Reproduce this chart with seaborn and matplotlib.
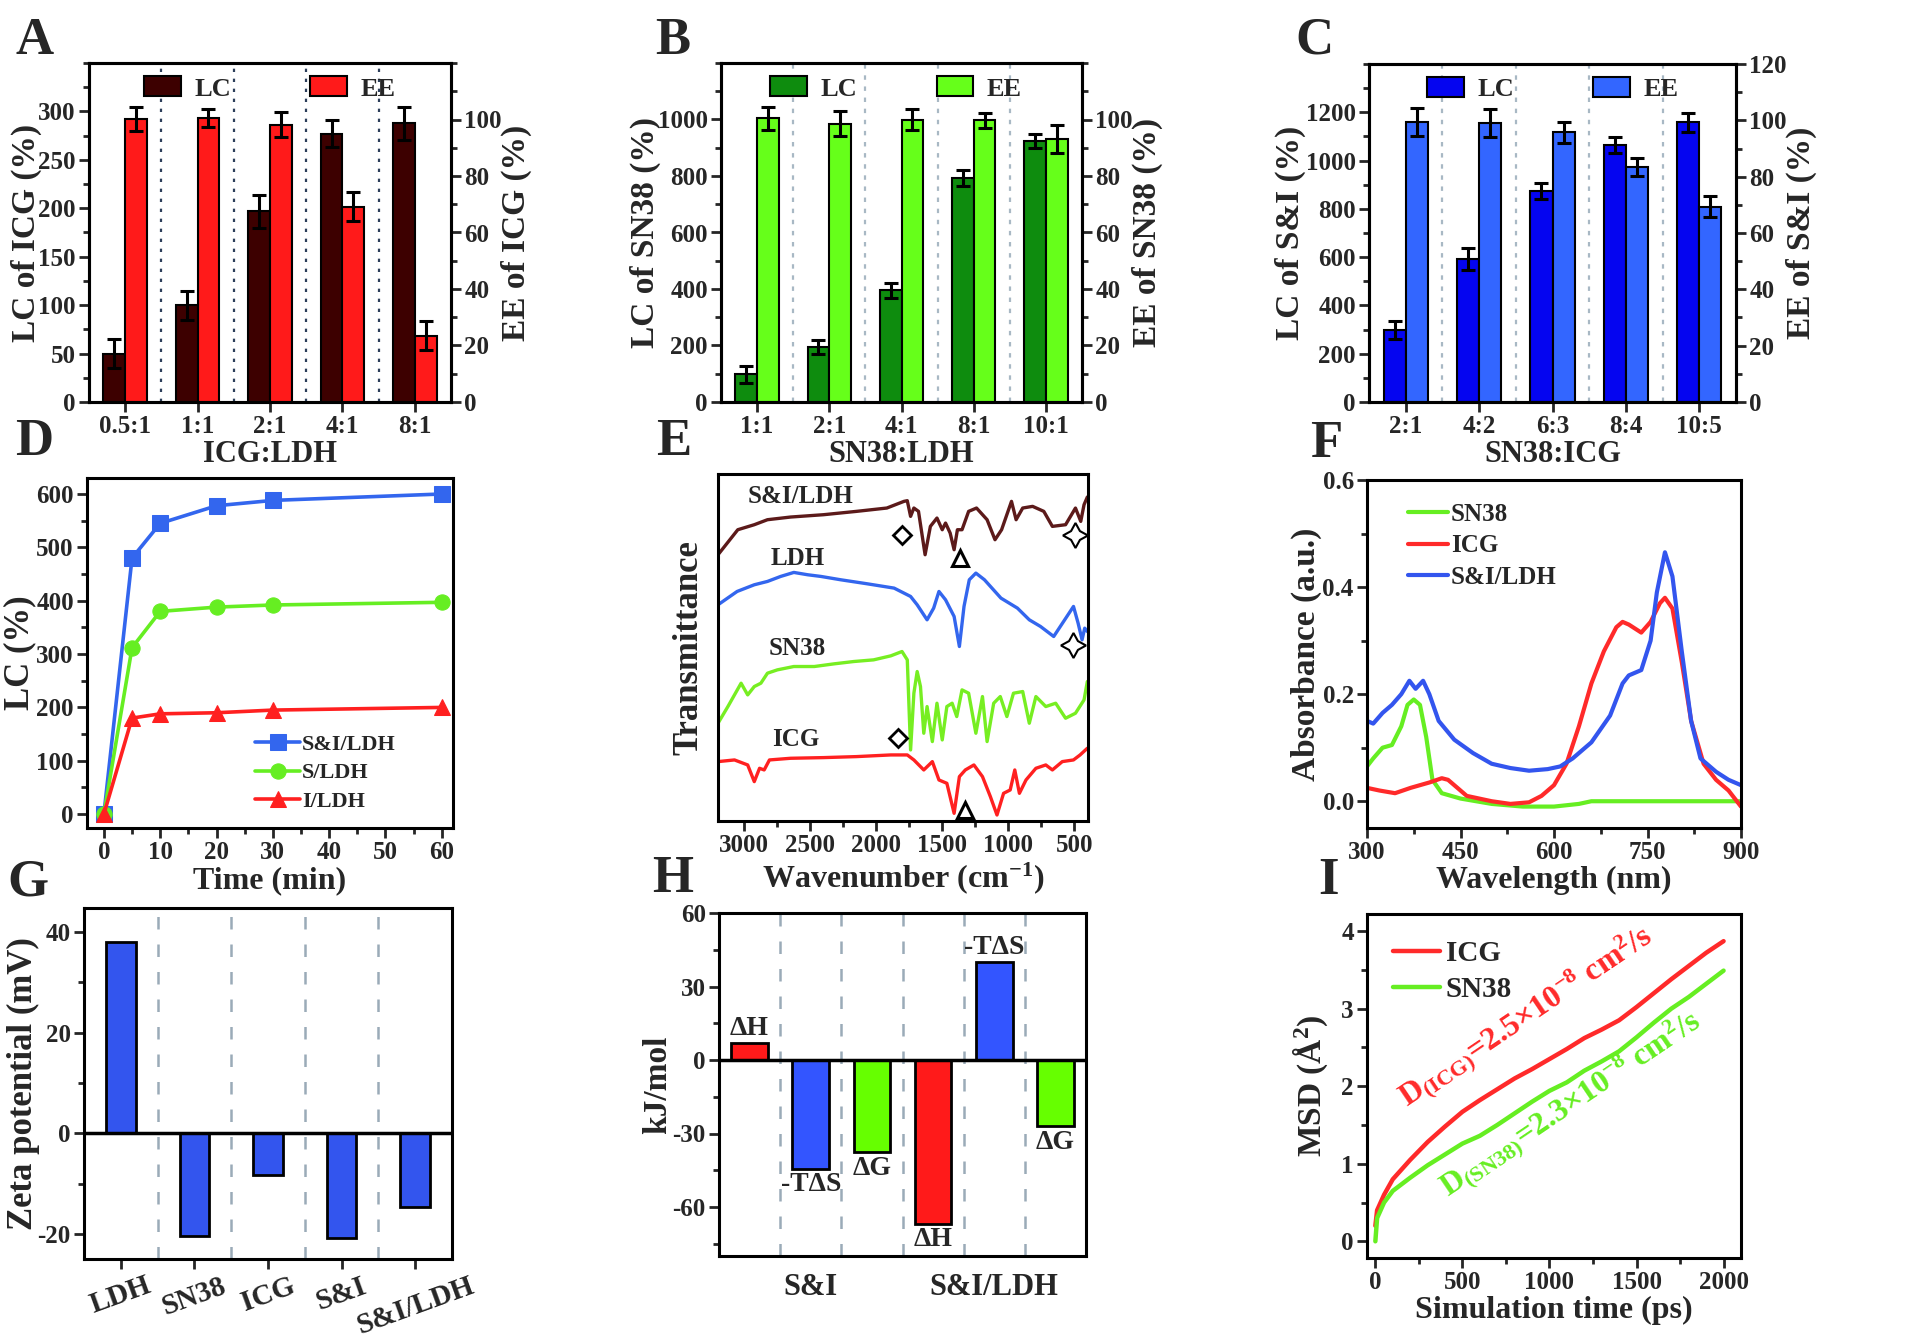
import numpy as np
import pandas as pd
import seaborn as sns
import matplotlib.pyplot as plt
from matplotlib.patches import Patch
from matplotlib.ticker import MultipleLocator

# ---------------- data ----------------
# A: ICG loading
ratio_a = ["0.5:1", "1:1", "2:1", "4:1", "8:1"]
lc_a = [50, 100, 197, 277, 288]
lc_a_err = [15, 15, 17, 14, 17]
ee_a = [100.2, 100.4, 98.2, 69.2, 23.5]
ee_a_err = [4.4, 3.2, 4.5, 5.0, 5.0]

# B: SN38 loading
ratio_b = ["1:1", "2:1", "4:1", "8:1", "10:1"]
lc_b = [98, 195, 395, 793, 924]
lc_b_err = [30, 26, 27, 28, 26]
ee_b = [100.4, 98.5, 100.0, 99.7, 93.1]
ee_b_err = [4.0, 4.4, 3.8, 2.6, 5.0]

# C: S&I loading
ratio_c = ["2:1", "4:2", "6:3", "8:4", "10:5"]
lc_c = [298, 592, 874, 1065, 1158]
lc_c_err = [36, 44, 33, 34, 39]
ee_c = [99.4, 99.0, 95.7, 83.4, 69.4]
ee_c_err = [5.0, 5.0, 3.8, 3.1, 3.7]

# D: loading kinetics
time_min = [0, 5, 10, 20, 30, 60]
lc_si_ldh = [0, 480, 545, 578, 588, 600]
lc_s_ldh = [0, 312, 380, 388, 392, 397]
lc_i_ldh = [0, 180, 188, 190, 195, 200]

# E: FTIR (arbitrary transmittance units, offset stacked)
wn_sildh = [3200, 3050, 2925, 2825, 2650, 2400, 2150, 1920, 1790, 1765, 1740, 1715, 1680, 1630,
            1590, 1540, 1500, 1475, 1440, 1410, 1385, 1350, 1300, 1240, 1160, 1100, 1050, 975,
            940, 890, 815, 730, 665, 565, 490, 450, 425, 400]
tr_sildh = [79.8, 87.3, 88.8, 90.3, 91.1, 91.8, 92.8, 93.8, 95.8, 96.0, 91.3, 93.8, 92.8, 79.8,
            88.3, 90.8, 87.3, 89.3, 86.3, 81.3, 87.3, 87.3, 92.8, 93.8, 90.3, 84.3, 87.3, 95.8,
            90.3, 93.8, 94.3, 92.8, 88.3, 88.8, 93.8, 89.8, 94.8, 97.1]
wn_ldh = [3200, 3055, 2925, 2825, 2725, 2625, 2520, 2420, 2270, 2070, 1865, 1740, 1690, 1615,
          1565, 1525, 1475, 1410, 1370, 1335, 1295, 1245, 1180, 1055, 930, 840, 755, 655, 580,
          505, 470, 440, 420, 400]
tr_ldh = [64.8, 68.8, 70.8, 71.8, 73.3, 74.5, 73.8, 73.3, 72.3, 71.1, 69.8, 67.3, 64.8, 60.3,
          63.8, 68.8, 66.3, 61.3, 52.3, 64.3, 72.3, 74.3, 72.3, 66.8, 63.8, 60.3, 58.3, 55.3, 59.8,
          64.3, 59.3, 54.3, 57.8, 56.8]
wn_sn38 = [3200, 3125, 3025, 2975, 2925, 2875, 2825, 2750, 2625, 2470, 2320, 2170, 2020, 1890,
           1805, 1765, 1740, 1715, 1690, 1665, 1640, 1615, 1575, 1540, 1500, 1465, 1425, 1390,
           1350, 1300, 1245, 1195, 1160, 1110, 1060, 1010, 960, 890, 840, 790, 715, 640, 565,
           490, 425, 400]
tr_sn38 = [29.3, 34.3, 41.3, 37.8, 40.3, 41.3, 44.3, 45.3, 46.3, 46.3, 47.1, 47.8, 48.3, 49.5,
           50.8, 48.3, 21.3, 38.3, 44.8, 40.3, 26.3, 34.3, 23.8, 35.3, 24.3, 34.3, 35.3, 31.3,
           39.3, 38.3, 26.3, 37.3, 23.8, 35.3, 37.3, 31.3, 38.3, 38.8, 29.3, 37.3, 34.3, 35.3,
           30.8, 32.3, 36.3, 41.8]
wn_icg = [3200, 3075, 2975, 2925, 2885, 2850, 2810, 2650, 2400, 2150, 1890, 1765, 1715, 1640,
          1575, 1525, 1465, 1410, 1370, 1325, 1260, 1195, 1135, 1085, 1035, 985, 950, 915, 865,
          790, 715, 665, 590, 505, 455, 400]
tr_icg = [17.8, 18.3, 16.8, 11.8, 15.8, 15.3, 18.3, 18.8, 19.0, 19.3, 19.8, 19.8, 18.3, 15.3,
          17.8, 12.3, 11.3, 2.3, 13.3, 15.3, 16.8, 13.3, 7.3, 1.8, 8.3, 9.3, 15.3, 8.3, 12.3,
          15.8, 16.8, 15.3, 17.8, 18.3, 19.8, 21.8]
ftir_names = ["S&I/LDH", "LDH", "SN38", "ICG"]
ftir_label_pos = [(2572, 97.3), (2597, 78.8), (2597, 51.8), (2610, 24.3)]
peak_diamond = [(1804, 85.8), (1834, 24.8)]
peak_triangle = [(1363, 78.8), (1326, 3.3)]
peak_star = [(495, 85.8), (512, 52.8)]

# F: UV-vis
wl_sn38 = [300, 310, 325, 340, 355, 365, 375, 385, 395, 405, 420, 450, 500, 550, 600, 640, 660, 700, 900]
ab_sn38 = [0.065, 0.08, 0.1, 0.105, 0.14, 0.18, 0.19, 0.18, 0.12, 0.04, 0.015, 0.005, -0.005,
           -0.01, -0.01, -0.005, 0.0, 0.0, 0.0]
wl_icg = [300, 320, 345, 370, 400, 420, 430, 445, 460, 500, 530, 560, 580, 600, 620, 640, 660,
          680, 700, 710, 720, 740, 755, 770, 778, 790, 805, 820, 840, 860, 880, 900]
ab_icg = [0.025, 0.02, 0.015, 0.025, 0.035, 0.043, 0.04, 0.025, 0.01, 0.0, -0.005, -0.002, 0.01,
          0.03, 0.07, 0.14, 0.22, 0.28, 0.325, 0.335, 0.33, 0.315, 0.335, 0.37, 0.38, 0.36, 0.26,
          0.15, 0.07, 0.04, 0.02, -0.01]
wl_sildh = [300, 310, 325, 340, 355, 368, 378, 390, 400, 415, 440, 470, 500, 530, 560, 590, 610,
            630, 660, 690, 710, 720, 740, 755, 765, 778, 790, 805, 820, 835, 860, 880, 900]
ab_sildh = [0.15, 0.145, 0.165, 0.18, 0.2, 0.225, 0.21, 0.225, 0.2, 0.15, 0.115, 0.09, 0.07,
            0.062, 0.057, 0.06, 0.065, 0.08, 0.11, 0.16, 0.22, 0.235, 0.245, 0.3, 0.39, 0.465,
            0.42, 0.28, 0.15, 0.08, 0.055, 0.04, 0.03]

# G: zeta potential
zeta_samples = ["LDH", "SN38", "ICG", "S&I", "S&I/LDH"]
zeta_mv = [38.1, -20.5, -8.3, -20.9, -14.6]

# H: thermodynamics
thermo_terms = ["ΔH", "-TΔS", "ΔG", "ΔH", "-TΔS", "ΔG"]
thermo_kj = [6.8, -44.3, -37.5, -66.8, 39.8, -26.9]
thermo_groups = ["S&I", "S&I/LDH"]

# I: MSD
t_ps = [0, 10, 50, 100, 200, 300, 400, 500, 600, 700, 800, 900, 1000, 1100, 1200, 1300, 1400,
        1500, 1600, 1700, 1800, 1900, 2000]
msd_icg = [0.2, 0.4, 0.6, 0.8, 1.05, 1.28, 1.48, 1.67, 1.82, 1.96, 2.1, 2.22, 2.35, 2.48, 2.62,
           2.73, 2.85, 3.02, 3.2, 3.38, 3.55, 3.72, 3.87]
msd_sn38 = [0.0, 0.3, 0.5, 0.65, 0.82, 0.98, 1.12, 1.26, 1.36, 1.5, 1.65, 1.8, 1.94, 2.05, 2.2,
            2.32, 2.45, 2.63, 2.82, 3.0, 3.15, 3.32, 3.49]

# ---------------- style ----------------
sns.set_style("ticks")
plt.rcParams["font.family"] = ["Liberation Serif", "DejaVu Serif"]
plt.rcParams["font.weight"] = "bold"
plt.rcParams["axes.labelweight"] = "bold"
plt.rcParams["axes.unicode_minus"] = False
plt.rcParams["mathtext.fontset"] = "custom"
plt.rcParams["mathtext.rm"] = "Liberation Serif:bold"
plt.rcParams["mathtext.bf"] = "Liberation Serif:bold"
plt.rcParams["mathtext.it"] = "Liberation Serif:bold:italic"
plt.rcParams["mathtext.default"] = "rm"
plt.rcParams["axes.linewidth"] = 2.2

RED, BLUE, GREEN = "#ff1a1a", "#3355ff", "#66ff00"
TICK_FS, XLAB_FS, YLAB_FS = 18, 22, 24

W, H = 1926, 1344
fig = plt.figure(figsize=(W / 100, H / 100), dpi=100)


def panel(l, t, r, b):
    return fig.add_axes([l / W, 1 - b / H, (r - l) / W, (b - t) / H])


def style(ax):
    ax.tick_params(which="both", direction="out", width=2, labelsize=TICK_FS, pad=2.5)
    ax.tick_params(which="major", length=7)
    ax.tick_params(which="minor", length=4)
    for s in ax.spines.values():
        s.set_linewidth(2.2)
        s.set_color("black")


def ylab_at(ax, x_px):
    # left label: x is right edge of the rotated text; right label: left edge
    p = ax.get_position()
    ax.yaxis.set_label_coords(x_px / W, p.y0 + p.height / 2, transform=fig.transFigure)


def xlab_at(ax, y_px):
    p = ax.get_position()
    ax.xaxis.set_label_coords(p.x0 + p.width / 2, 1 - y_px / H, transform=fig.transFigure)


def loading_panel(ax, ratios, lc, lc_err, ee, ee_err, pal, lc_lim, lc_ticks, lc_minor,
                  ee_ticks, xlabel, ylab_l, ylab_r, sep_style, sep_color, leg_x, ylx):
    ax2 = ax.twinx()
    df_lc = pd.DataFrame({"ratio": ratios, "value": lc, "kind": "LC"})
    df_ee = pd.DataFrame({"ratio": ratios, "value": ee, "kind": "EE"})
    for a, d, err in ((ax, df_lc, lc_err), (ax2, df_ee, ee_err)):
        sns.barplot(data=d, x="ratio", y="value", hue="kind", hue_order=["LC", "EE"],
                    dodge=True, palette=pal, width=0.6, saturation=1, errorbar=None,
                    edgecolor="black", linewidth=1.5, legend=False, ax=a)
        bars = sorted(a.patches, key=lambda p: p.get_x())
        xs = [p.get_x() + p.get_width() / 2 for p in bars]
        a.errorbar(xs, d["value"], yerr=err, fmt="none", ecolor="black", elinewidth=2.2,
                   capsize=5, capthick=2.2, zorder=5)
    for x in np.arange(len(ratios) - 1) + 0.5:
        ax.axvline(x, color=sep_color, lw=1.6, ls=sep_style, zorder=0)
    ax.set_xlim(-0.5, len(ratios) - 0.5)
    ax.set_ylim(*lc_lim)
    ax.set_yticks(lc_ticks)
    ax.yaxis.set_minor_locator(MultipleLocator(lc_minor))
    ax2.set_ylim(0, 120)
    ax2.set_yticks(ee_ticks)
    ax2.yaxis.set_minor_locator(MultipleLocator(10))
    ax.set_xlabel(xlabel, fontsize=XLAB_FS)
    ax.set_ylabel(ylab_l, fontsize=YLAB_FS)
    ax2.set_ylabel(ylab_r, fontsize=YLAB_FS)
    xlab_at(ax, 440)
    ylab_at(ax, ylx[0])
    ylab_at(ax2, ylx[1])
    style(ax)
    style(ax2)
    handles = [Patch(facecolor=pal["LC"], edgecolor="black", lw=1.5, label="LC"),
               Patch(facecolor=pal["EE"], edgecolor="black", lw=1.5, label="EE")]
    ax2.legend(handles=handles, loc="center", bbox_to_anchor=(leg_x, 0.925), ncol=2,
               frameon=False, fontsize=19, handlelength=1.4, handleheight=0.8,
               columnspacing=3.0, handletextpad=0.5)


# ---------------- A, B, C ----------------
axA = panel(89, 63, 451, 402)
loading_panel(axA, ratio_a, lc_a, lc_a_err, ee_a, ee_a_err, {"LC": "#3d0000", "EE": RED},
              (0, 350), range(0, 301, 50), 25, range(0, 101, 20), "ICG:LDH",
              "LC of ICG (%)", "EE of ICG (%)", (0, (1.5, 3)), "#2c3e5a", 0.5, (42, 501))
axB = panel(721, 63, 1082, 402)
loading_panel(axB, ratio_b, lc_b, lc_b_err, ee_b, ee_b_err, {"LC": "#0e8c0e", "EE": "#66ff1a"},
              (0, 1200), range(0, 1001, 200), 100, range(0, 101, 20), "SN38:LDH",
              "LC of SN38 (%)", "EE of SN38 (%)", (0, (2, 3)), "#a8b8c4", 0.485, (661, 1132))
axC = panel(1369, 64, 1736, 402)
loading_panel(axC, ratio_c, lc_c, lc_c_err, ee_c, ee_c_err, {"LC": "#0505f0", "EE": "#3366ff"},
              (0, 1400), range(0, 1201, 200), 100, range(0, 121, 20), "SN38:ICG",
              "LC of S&I (%)", "EE of S&I (%)", (0, (2, 3)), "#a8b8c4", 0.5, (1306, 1786))

# ---------------- D ----------------
axD = panel(87, 478, 453, 828)
for vals, col, mk, lab in ((lc_si_ldh, "#3366ee", "s", "S&I/LDH"),
                           (lc_s_ldh, "#66ee22", "o", "S/LDH"),
                           (lc_i_ldh, "#ff2020", "^", "I/LDH")):
    sns.lineplot(x=time_min, y=vals, color=col, marker=mk, markersize=11, markeredgecolor=col,
                 linewidth=2.6, label=lab, ax=axD)
axD.set_xlim(-3, 62)
axD.set_ylim(-26, 630)
axD.xaxis.set_major_locator(MultipleLocator(10))
axD.xaxis.set_minor_locator(MultipleLocator(5))
axD.yaxis.set_major_locator(MultipleLocator(100))
axD.yaxis.set_minor_locator(MultipleLocator(50))
axD.set_xlabel("Time (min)", fontsize=XLAB_FS + 1)
axD.set_ylabel("LC (%)", fontsize=YLAB_FS + 1)
xlab_at(axD, 866)
ylab_at(axD, 36)
style(axD)
axD.legend(loc="center left", bbox_to_anchor=(0.43, 0.157), frameon=False, fontsize=16,
           handlelength=2.0, handletextpad=0.1, labelspacing=0.35, borderpad=0)

# ---------------- E ----------------
axE = panel(718, 474, 1088, 821)
for wn, tr, col in ((wn_sildh, tr_sildh, "#5c1a1a"), (wn_ldh, tr_ldh, "#3366ee"),
                    (wn_sn38, tr_sn38, "#77ee22"), (wn_icg, tr_icg, "#ff2020")):
    sns.lineplot(x=wn, y=tr, color=col, linewidth=2.4, ax=axE)
for name, (x, y) in zip(ftir_names, ftir_label_pos):
    axE.text(x, y, name, fontsize=18, ha="center", va="center")
for x, y in peak_diamond:
    axE.plot(x, y, marker="D", ms=9, mfc="white", mec="black", mew=2)
for x, y in peak_triangle:
    axE.plot(x, y, marker="^", ms=11, mfc="white", mec="black", mew=2.2)
for x, y in peak_star:
    axE.plot(x, y, marker=(4, 1, 0), ms=18, mfc="white", mec="black", mew=1.5)
axE.set_xlim(3200, 395)
axE.set_ylim(0, 104)
axE.set_xticks([3000, 2500, 2000, 1500, 1000, 500])
axE.xaxis.set_minor_locator(MultipleLocator(250))
axE.set_yticks([])
axE.set_xlabel("Wavenumber (cm$^{-1}$)", fontsize=XLAB_FS + 1)
axE.set_ylabel("Transmittance", fontsize=YLAB_FS + 1)
xlab_at(axE, 860)
ylab_at(axE, 705)
style(axE)

# ---------------- F ----------------
axF = panel(1367, 480, 1741, 828)
for wl, ab, col, lab in ((wl_sn38, ab_sn38, "#66ee22", "SN38"), (wl_icg, ab_icg, "#ff2a2a", "ICG"),
                         (wl_sildh, ab_sildh, "#3355ee", "S&I/LDH")):
    sns.lineplot(x=wl, y=ab, color=col, linewidth=3, label=lab, ax=axF)
axF.set_xlim(300, 900)
axF.set_ylim(-0.05, 0.6)
axF.set_xticks([300, 450, 600, 750, 900])
axF.xaxis.set_minor_locator(MultipleLocator(75))
axF.set_yticks([0, 0.2, 0.4, 0.6])
axF.set_yticklabels(["0.0", "0.2", "0.4", "0.6"])
axF.yaxis.set_minor_locator(MultipleLocator(0.1))
axF.set_xlabel("Wavelength (nm)", fontsize=XLAB_FS + 1)
axF.set_ylabel("Absorbance (a.u.)", fontsize=YLAB_FS)
xlab_at(axF, 866)
ylab_at(axF, 1322)
style(axF)
axF.legend(loc="upper left", bbox_to_anchor=(0.05, 1.0), frameon=False, fontsize=18,
           handlelength=1.6, handletextpad=0.1, labelspacing=0.35)

# ---------------- G ----------------
axG = panel(84, 908, 452, 1259)
sns.barplot(x=zeta_samples, y=zeta_mv, color="#3355ee", saturation=1, width=0.4,
            edgecolor="black", linewidth=2, ax=axG)
axG.axhline(0, color="black", lw=2.5, zorder=1)
for x in np.arange(len(zeta_samples) - 1) + 0.5:
    axG.axvline(x, color="#9aabb8", lw=1.8, ls=(0, (5, 6)), zorder=0)
axG.set_xlim(-0.5, len(zeta_samples) - 0.5)
axG.set_ylim(-25, 44.8)
axG.set_yticks([-20, 0, 20, 40])
axG.yaxis.set_minor_locator(MultipleLocator(10))
axG.set_ylabel("Zeta potential (mV)", fontsize=YLAB_FS + 1)
ylab_at(axG, 40)
style(axG)
axG.tick_params(axis="x", labelsize=TICK_FS + 3, labelrotation=20)

# ---------------- H ----------------
axH = panel(719, 913, 1086, 1256)
pos = list(range(len(thermo_kj)))
sns.barplot(x=pos, y=thermo_kj, hue=pos, palette=[RED, BLUE, GREEN, RED, BLUE, GREEN],
            saturation=1, width=0.6, edgecolor="black", linewidth=2, legend=False, ax=axH)
axH.axhline(0, color="black", lw=2.5, zorder=1)
for x in np.arange(len(thermo_kj) - 1) + 0.5:
    axH.axvline(x, color="#9aabb8", lw=1.8, ls=(0, (5, 6)), zorder=0)
for p, v, lab in zip(pos, thermo_kj, thermo_terms):
    axH.text(p, v + (1 if v > 0 else -1.5), lab, fontsize=20, ha="center",
             va="bottom" if v > 0 else "top")
axH.set_xlim(-0.5, len(thermo_kj) - 0.5)
axH.set_ylim(-80, 60)
axH.set_yticks([-60, -30, 0, 30, 60])
axH.yaxis.set_minor_locator(MultipleLocator(15))
axH.set_xticks([1, 4])
axH.set_xticklabels(thermo_groups)
axH.set_ylabel("kJ/mol", fontsize=YLAB_FS)
ylab_at(axH, 673)
style(axH)
axH.tick_params(axis="x", length=0, labelsize=TICK_FS + 4, pad=12)

# ---------------- I ----------------
axI = panel(1367, 914, 1741, 1258)
sns.lineplot(x=t_ps, y=msd_icg, color="#ff2a2a", linewidth=3.2, label="ICG", ax=axI)
sns.lineplot(x=t_ps, y=msd_sn38, color="#66ee22", linewidth=3.2, label="SN38", ax=axI)
axI.text(215, 1.62, "D$_{(ICG)}$=2.5×10$^{-8}$ cm$^{2}$/s", color="#ff2a2a", fontsize=23,
         rotation=34, rotation_mode="anchor", ha="left", va="bottom")
axI.text(450, 0.45, "D$_{(SN38)}$=2.3×10$^{-8}$ cm$^{2}$/s", color="#66ee22", fontsize=23,
         rotation=34, rotation_mode="anchor", ha="left", va="bottom")
axI.set_xlim(-48, 2100)
axI.set_ylim(-0.215, 4.22)
axI.xaxis.set_major_locator(MultipleLocator(500))
axI.xaxis.set_minor_locator(MultipleLocator(250))
axI.yaxis.set_major_locator(MultipleLocator(1))
axI.yaxis.set_minor_locator(MultipleLocator(0.5))
axI.set_xlabel("Simulation time (ps)", fontsize=XLAB_FS + 1)
axI.set_ylabel("MSD (Å$^{2}$)", fontsize=YLAB_FS)
xlab_at(axI, 1296)
ylab_at(axI, 1330)
style(axI)
axI.legend(loc="upper left", bbox_to_anchor=(0.0, 1.0), frameon=False, fontsize=21,
           handlelength=1.6, handletextpad=0.2, labelspacing=0.3)

# ---------------- panel letters ----------------
letters = [("A", 15, 17), ("B", 655, 17), ("C", 1295, 17),
           ("D", 15, 418), ("E", 656, 418), ("F", 1310, 420),
           ("G", 7, 858), ("H", 652, 855), ("I", 1318, 857)]
for lab, x, y in letters:
    fig.text(x / W, 1 - y / H, lab, fontsize=38, fontweight="bold", ha="left", va="top")

fig.savefig("out.png", dpi=100)
